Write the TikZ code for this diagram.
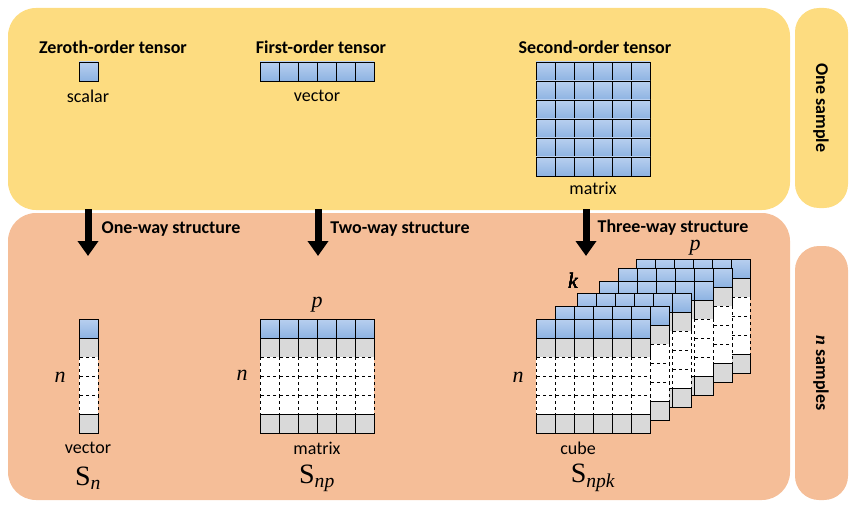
\documentclass[tikz,border=0pt]{standalone}
\usepackage{fontspec}
\setmainfont{Carlito}
\newfontfamily\serifit{Liberation Serif}
\usetikzlibrary{positioning,arrows.meta}

\definecolor{sampleyellow}{HTML}{FDDC80}
\definecolor{sampleorange}{HTML}{F5BE98}
\definecolor{cellblueA}{HTML}{B8CFEF}
\definecolor{cellblueB}{HTML}{8DB3E2}
\definecolor{cellgray}{HTML}{D9D9D9}

\tikzset{
  panel/.style={rounded corners=28pt,draw=none},
  tab/.style={rounded corners=24pt,draw=none},
  title/.style={font=\fontsize{18}{20}\selectfont\bfseries,inner sep=1pt},
  small/.style={font=\fontsize{18}{20}\selectfont},
  idx/.style={font=\fontsize{22}{24}\selectfont\serifit\itshape,inner sep=1pt},
  big/.style={font=\fontsize{28}{30}\selectfont\serifit},
  bluecell/.style={draw=black,line width=0.6pt,top color=cellblueA,bottom color=cellblueB},
  graycell/.style={draw=black,line width=0.6pt,fill=cellgray},
  whitecell/.style={draw=black,line width=0.6pt,dashed,fill=white},
  flow/.style={line width=7pt,-{Triangle[length=15pt,width=20pt]}},
}

% a sample table: #1,#2 = upper left corner, #3 = number of columns
\newcommand{\sampletable}[3]{%
  \foreach \c in {1,...,#3}{
    \path[bluecell] ({#1+(\c-1)*19},#2) rectangle ++(19,19);
    \path[graycell] ({#1+(\c-1)*19},#2+19) rectangle ++(19,19);
    \foreach \r in {2,3,4}
      \path[whitecell] ({#1+(\c-1)*19},{#2+\r*19}) rectangle ++(19,19);
    \path[graycell] ({#1+(\c-1)*19},#2+95) rectangle ++(19,19);
  }%
}

\begin{document}
\begin{tikzpicture}[x=1pt,y=-1pt]
  \useasboundingbox (0,0) rectangle (858,513);

  % panels
  \fill[panel,sampleyellow] (8,8) rectangle (790,210);
  \fill[tab,sampleyellow] (795,8) rectangle (848,208);
  \fill[panel,sampleorange] (8,213) rectangle (790,500);
  \fill[tab,sampleorange] (795,246) rectangle (848,500);
  \node[title,rotate=-90] (onesample) at (821,108) {One sample};
  \node[title,rotate=-90] (nsamples) at (821,373) {{\serifit\itshape n} samples};

  % one sample
  \node[title] (zeroth) at (113,47) {Zeroth-order tensor};
  \node[title] (first) at (321,47) {First-order tensor};
  \node[title] (second) at (595,47) {Second-order tensor};
  \path[bluecell] (79,62) rectangle (98,81);
  \node[small] (scalar) at (88,96) {scalar};
  \foreach \c in {0,...,5}
    \path[bluecell] ({260+\c*19},62) rectangle ++(19,19);
  \node[small] (vec) at (317,96) {vector};
  \foreach \c in {0,...,5}
    \foreach \r in {0,...,5}
      \path[bluecell] ({536+\c*19},{62+\r*19}) rectangle ++(19,19);
  \node[small] (mat) at (593,188) {matrix};

  % structure arrows
  \coordinate (a1s) at (88,209); \coordinate (a1e) at (88,256);
  \coordinate (a2s) at (318,209); \coordinate (a2e) at (318,256);
  \coordinate (a3s) at (586,209); \coordinate (a3e) at (586,256);
  \draw[flow] (a1s) -- (a1e);
  \draw[flow] (a2s) -- (a2e);
  \draw[flow] (a3s) -- (a3e);
  \node[title] (oneway) at (171,229) {One-way structure};
  \node[title] (twoway) at (400,229) {Two-way structure};
  \node[title] (threeway) at (673,228) {Three-way structure};

  % n samples
  \sampletable{79}{319}{1}
  \node[idx] (nvec) at (60,377) {n};
  \node[small] (vecb) at (88,448) {vector};
  \node[big] (sn) at (88,478) {S\textsubscript{\itshape n}};

  \sampletable{260}{319}{6}
  \node[idx] (pmat) at (317,305) {p};
  \node[idx] (nmat) at (242,375) {n};
  \node[small] (matb) at (317,448) {matrix};
  \node[big] (snp) at (317,478) {S\textsubscript{\itshape np}};

  \foreach \x/\y in {636/259,618/268,599/281,577/293,555/306,536/319}
    \sampletable{\x}{\y}{6}
  \node[idx] (kcube) at (573,281) {k};
  \node[idx] (pcube) at (695,248) {p};
  \node[idx] (ncube) at (518,377) {n};
  \node[small] (cube) at (578,448) {cube};
  \node[big] (snpk) at (593,478) {S\textsubscript{\itshape npk}};
\end{tikzpicture}
\end{document}
